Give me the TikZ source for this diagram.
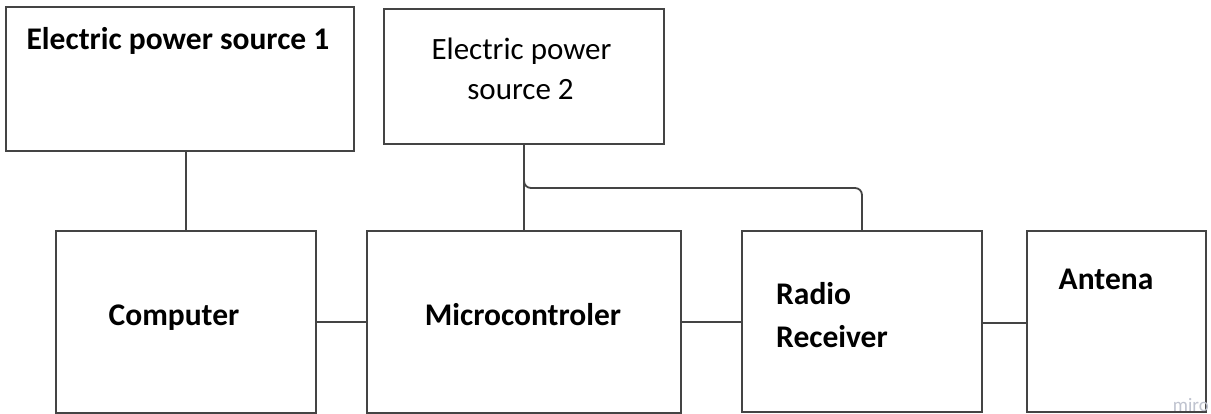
\documentclass[tikz,border=0pt]{standalone}
\usepackage{fontspec}
\setmainfont{Carlito}
\definecolor{linec}{HTML}{444444}
\definecolor{wmark}{HTML}{BFC3CF}
\tikzset{
  blk/.style={draw=linec, line width=1.8pt, rectangle, inner sep=0pt, outer sep=0pt, fill=white},
  wire/.style={draw=linec, line width=1.8pt},
  bl/.style={font=\fontsize{31.5}{37}\selectfont\bfseries, inner sep=0pt, text=black},
  rl/.style={font=\fontsize{31}{37}\selectfont, inner sep=0pt, text=black},
}
\begin{document}
\begin{tikzpicture}[x=1pt,y=-1pt]
\useasboundingbox[fill=white] (0,0) rectangle (1211,414);
% boxes
\node[blk, minimum width=348pt, minimum height=144pt] (ps1) at (180,79) {};
\node[blk, minimum width=280pt, minimum height=135pt] (ps2) at (524,76.5) {};
\node[blk, minimum width=260pt, minimum height=182pt] (comp) at (186,322) {};
\node[blk, minimum width=314pt, minimum height=182pt] (mcu) at (524,322) {};
\node[blk, minimum width=240pt, minimum height=181pt] (rr) at (862,321.5) {};
\node[blk, minimum width=179pt, minimum height=181pt] (ant) at (1116.5,321.5) {};
% labels
\node[bl, anchor=base] (t1) at (178,50) {Electric power source 1};
\node[rl, anchor=base] (t2a) at (521.5,60) {Electric power};
\node[rl, anchor=base] (t2b) at (520.5,100) {source 2};
\node[bl, anchor=base] (t3) at (174,325) {Computer};
\node[bl, anchor=base] (t4) at (523,325) {Microcontroler};
\node[bl, anchor=base west] (t5a) at (776,305) {Radio};
\node[bl, anchor=base west] (t5b) at (776,347) {Receiver};
\node[bl, anchor=base] (t6) at (1106,290) {Antena};
\node[anchor=base east, inner sep=0pt, text=wmark, font=\fontsize{19}{22}\selectfont] (wm) at (1209,411) {miro};
% connectors
\coordinate (j) at (862,188);
\draw[wire] (comp.north) -- (comp.north |- ps1.south);
\draw[wire] (ps2.south) -- (mcu.north);
\draw[wire, rounded corners=7pt] (ps2.south) |- (j) -- (rr.north);
\draw[wire] (comp.east) -- (mcu.west);
\draw[wire] (mcu.east) -- (mcu.east -| rr.west);
\draw[wire] ([yshift=-1.5pt]rr.east) -- ([yshift=-1.5pt]rr.east -| ant.west);
\end{tikzpicture}
\end{document}
